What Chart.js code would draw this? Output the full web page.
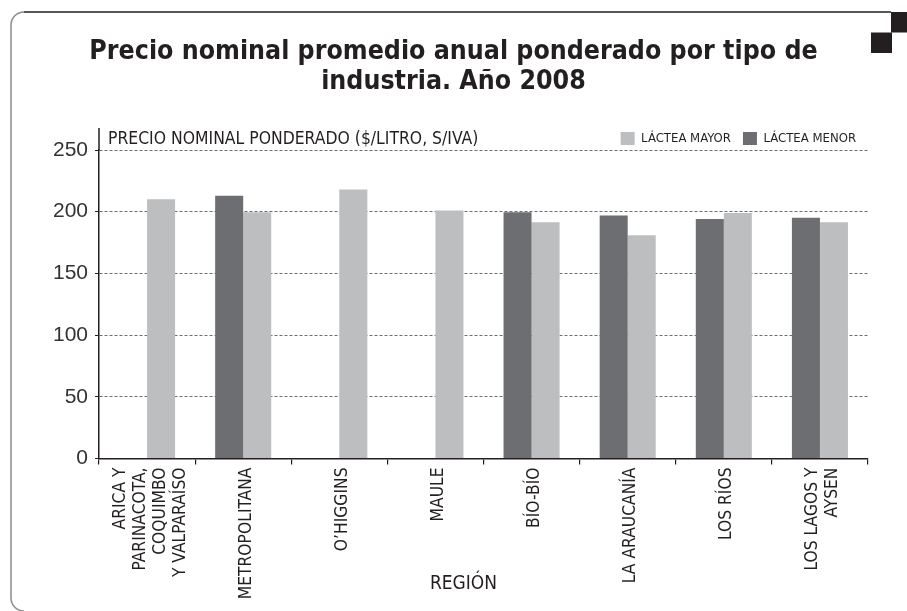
<!DOCTYPE html>
<html>
<head>
<meta charset="utf-8">
<script src="https://cdn.jsdelivr.net/npm/chart.js@4.4.1/dist/chart.umd.min.js"></script>
<style>
  html, body { margin: 0; padding: 0; background: #fff; }
  #wrap { width: 907px; height: 611px; position: relative; }
</style>
</head>
<body>
<div id="wrap"><canvas id="precioChart"></canvas></div>
<script>
// Precio nominal ponderado ($/litro, s/IVA) por región, 2008
const regiones = [
    ['ARICA Y', 'PARINACOTA,', 'COQUIMBO', 'Y VALPARAÍSO'],
    'METROPOLITANA',
    'O\u2019HIGGINS',
    'MAULE',
    'BÍO-BÍO',
    'LA ARAUCANÍA',
    'LOS RÍOS',
    ['LOS LAGOS Y', 'AYSEN']
];
const lacteaMenor = [null, 213, null, null, 199.5, 197, 194, 195];
const lacteaMayor = [210, 199.5, 218, 201, 191.5, 181, 199, 191.5];
const pasoEje = 50;
const maxEje = 250;

const NARROW = "'DejaVu Sans Condensed', 'Liberation Sans Narrow', sans-serif";
const INK = '#231f20';
const GRIS_OSCURO = '#6d6e71';
const GRIS_CLARO = '#bcbec0';

// marco redondeado, cuadros de esquina, rótulos de ejes
const marco = {
    id: 'marco',
    beforeDraw(chart) {
        const ctx = chart.ctx;
        ctx.save();
        ctx.fillStyle = '#fff';
        ctx.fillRect(0, 0, chart.width, chart.height);

        ctx.lineWidth = 1.5;
        ctx.strokeStyle = '#8c8c8c';
        ctx.beginPath();
        ctx.moveTo(24, 12);
        ctx.arcTo(11, 12, 11, 25, 13);
        ctx.lineTo(11, 598);
        ctx.arcTo(11, 611, 24, 611, 13);
        ctx.stroke();

        ctx.strokeStyle = INK;
        ctx.beginPath();
        ctx.moveTo(24, 12);
        ctx.lineTo(891, 12);
        ctx.stroke();

        ctx.fillStyle = INK;
        ctx.fillRect(891, 12, 16, 20.5);
        ctx.fillRect(871, 32.5, 21, 20.5);
        ctx.restore();
    },
    afterDraw(chart) {
        const ctx = chart.ctx;
        const area = chart.chartArea;
        const x = chart.scales.x;
        ctx.save();

        // el eje vertical sube un poco sobre la línea de 250
        ctx.strokeStyle = INK;
        ctx.lineWidth = 1.5;
        ctx.beginPath();
        ctx.moveTo(area.left, 128);
        ctx.lineTo(area.left, area.top);
        ctx.stroke();

        ctx.fillStyle = INK;
        ctx.font = '17.4px ' + NARROW;
        ctx.textAlign = 'left';
        ctx.textBaseline = 'alphabetic';
        ctx.fillText('PRECIO NOMINAL PONDERADO ($/LITRO, S/IVA)', area.left + 9, 143.5);

        // etiquetas de región verticales, centradas en su categoría
        ctx.font = '17.3px ' + NARROW;
        ctx.textAlign = 'right';
        ctx.textBaseline = 'middle';
        const lh = 20;
        regiones.forEach((label, i) => {
            const lines = Array.isArray(label) ? label : [label];
            const px = x.getPixelForTick(i) + 3;
            lines.forEach((line, j) => {
                ctx.save();
                ctx.translate(px + (j - (lines.length - 1) / 2) * lh, x.top + 9);
                ctx.rotate(-Math.PI / 2);
                ctx.fillText(line, 0, 0);
                ctx.restore();
            });
        });

        ctx.font = '19px ' + NARROW;
        ctx.textAlign = 'center';
        ctx.fillText('REGIÓN', area.left + area.width * 0.474, 584);
        ctx.restore();
    }
};

const ctx = document.getElementById('precioChart').getContext('2d');
new Chart(ctx, {
    type: 'bar',
    data: {
        labels: regiones,
        datasets: [{
            label: 'LÁCTEA MENOR',
            data: lacteaMenor,
            backgroundColor: GRIS_OSCURO,
            borderWidth: 0,
            categoryPercentage: 0.583,
            barPercentage: 1
        }, {
            label: 'LÁCTEA MAYOR',
            data: lacteaMayor,
            backgroundColor: GRIS_CLARO,
            borderWidth: 0,
            categoryPercentage: 0.583,
            barPercentage: 1
        }]
    },
    options: {
        responsive: true,
        maintainAspectRatio: false,
        animation: false,
        layout: { padding: { top: 0, right: 39, bottom: 0, left: 39 } },
        plugins: {
            title: {
                display: true,
                text: ['Precio nominal promedio anual ponderado por tipo de', 'industria. Año 2008'],
                color: INK,
                font: { family: NARROW, size: 26.5, weight: 'bold', lineHeight: '30px' },
                padding: { top: 37, bottom: 23 }
            },
            legend: {
                position: 'top',
                align: 'end',
                reverse: true,
                maxHeight: 30,
                labels: {
                    boxWidth: 14,
                    boxHeight: 13,
                    padding: 12,
                    color: INK,
                    font: { family: NARROW, size: 13 }
                }
            },
            tooltip: { enabled: false }
        },
        scales: {
            x: {
                grid: {
                    drawOnChartArea: false,
                    drawTicks: true,
                    tickLength: 6,
                    offset: true,
                    color: INK,
                    tickColor: INK,
                    lineWidth: 1.2
                },
                border: { color: INK, width: 1.5 },
                ticks: { display: false },
                afterFit(axis) { axis.height = 152.5; }
            },
            y: {
                min: 0,
                max: maxEje,
                ticks: {
                    stepSize: pasoEje,
                    color: '#333',
                    padding: 7,
                    font: { family: "'Liberation Sans', Arial, sans-serif", size: 21 }
                },
                grid: {
                    color: c => (c.tick && c.tick.value === 0) ? 'rgba(0,0,0,0)' : GRIS_OSCURO,
                    lineWidth: 1,
                    tickLength: 4,
                    tickColor: INK,
                    tickBorderDash: []
                },
                border: { color: INK, width: 1.5, dash: [3, 2] },
                afterFit(axis) { axis.width = 60; }
            }
        }
    },
    plugins: [marco]
});
</script>
</body>
</html>
